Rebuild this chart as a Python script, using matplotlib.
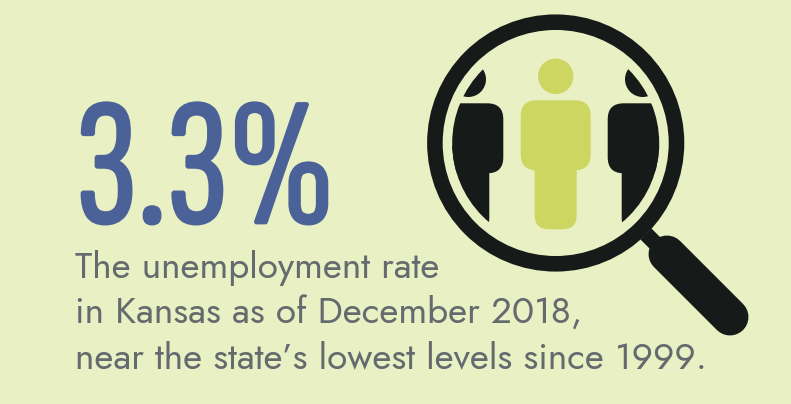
import matplotlib
matplotlib.use('Agg')
import matplotlib.pyplot as plt
import matplotlib.patheffects as pe
from matplotlib.patches import Circle, FancyBboxPatch

big_value = '3.3%'
caption_lines = ['The unemployment rate',
                 'in Kansas as of December 2018,',
                 'near the state\u2019s lowest levels since 1999.']

bg = '#e9f0c4'
blue = '#4a6297'
grey = '#656a6e'
dark = '#161a19'
lime = '#cdd660'

W, H = 791, 404
fig = plt.figure(figsize=(W / 100, H / 100), dpi=100, facecolor=bg)
ax = fig.add_axes([0, 0, 1, 1])
ax.set_xlim(0, W)
ax.set_ylim(H, 0)
ax.axis('off')

# big number, a thin stroke makes it as heavy as the reference
ax.text(76, 223, big_value, fontsize=131, color=blue, va='baseline', ha='left',
        family=['Sofia Sans Extra Condensed', 'Bebas Neue', 'Liberation Sans'], weight=500,
        path_effects=[pe.withStroke(linewidth=2, foreground=blue)])

# caption
ys = [278, 323, 368]
for line, y in zip(caption_lines, ys):
    ax.text(75, y, line, fontsize=26.6, color=grey, va='baseline', ha='left',
            family=['Jost', 'Lato', 'DejaVu Sans'])

cx, cy = 555.7, 143


def person(x, y, fc, clip=None):
    # one figure: head, torso and legs, x is the centre line, y the top of the torso
    parts = [Circle((x, y - 24), 17.7),
             FancyBboxPatch((x - 35, y), 70, 70, boxstyle='round,pad=0,rounding_size=16'),
             FancyBboxPatch((x - 21, y + 40), 42, 89, boxstyle='round,pad=0,rounding_size=14')]
    for p in parts:
        p.set(fc=fc, ec='none', zorder=3)
        ax.add_patch(p)
        if clip is not None:
            p.set_clip_path(clip)


lens = Circle((cx, cy), 103.5, transform=ax.transData)
person(468.3, 103.3, dark, lens)
person(642.7, 103.3, dark, lens)
person(cx, 100.3, lime)

# handle of the magnifier
ax.plot([646, 668], [234, 256], color=dark, lw=11.2, solid_capstyle='butt', zorder=2)
ax.plot([667, 730], [254, 317], color=dark, lw=26.6, solid_capstyle='round', zorder=2)

# ring of the lens
ax.add_patch(Circle((cx, cy), 120.8, fc='none', ec=dark, lw=11.2, zorder=4))

fig.savefig('out.png', dpi=100, facecolor=bg)
